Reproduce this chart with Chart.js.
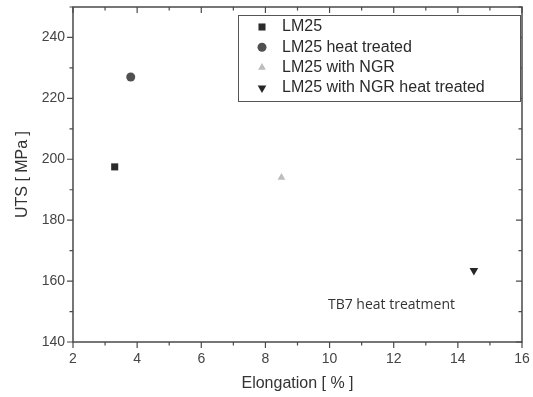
<!DOCTYPE html>
<html>
<head>
<meta charset="utf-8">
<script src="https://cdn.jsdelivr.net/npm/chart.js@4"></script>
<style>
  html, body { margin: 0; padding: 0; background: #fff; }
  #wrap { width: 533px; height: 397px; }
</style>
</head>
<body>
<div id="wrap"><canvas id="utsChart"></canvas></div>
<script>
// Data
const seriesNames = ['LM25', 'LM25 heat treated', 'LM25 with NGR', 'LM25 with NGR heat treated'];
const elongation = [3.3, 3.8, 8.5, 14.5];
const uts = [197.5, 227, 194, 163.5];
const xTicks = [2, 4, 6, 8, 10, 12, 14, 16];
const yTicks = [140, 160, 180, 200, 220, 240];
const noteText = 'TB7 heat treatment';
const notePos = [9.95, 152];

const markerStyles = ['rect', 'circle', 'triangle', 'triangle'];
const markerRot = [0, 0, 0, 180];
const markerSize = [5, 4.5, 4.5, 5];
const markerColors = ['#2b2b2b', '#505050', '#bdbdbd', '#262626'];
const axisColor = '#4a4a4a';

const datasets = seriesNames.map(function(name, i) {
  return {
    label: name,
    data: [{ x: elongation[i], y: uts[i] }],
    pointStyle: markerStyles[i],
    rotation: markerRot[i],
    pointRadius: markerSize[i],
    pointHoverRadius: markerSize[i],
    backgroundColor: markerColors[i],
    borderColor: markerColors[i],
    borderWidth: 0
  };
});

// frame, major/minor ticks, legend box and the note
const framePlugin = {
  id: 'frame',
  afterDraw(chart) {
    const ctx = chart.ctx;
    const a = chart.chartArea;
    const xs = chart.scales.x, ys = chart.scales.y;
    ctx.save();
    ctx.strokeStyle = axisColor;
    ctx.lineWidth = 1.5;
    ctx.strokeRect(a.left, a.top, a.right - a.left, a.bottom - a.top);

    ctx.lineWidth = 1.2;
    ctx.beginPath();
    for (let v = 2; v <= 16; v += 1) {
      const px = xs.getPixelForValue(v);
      const len = v % 2 === 0 ? 6 : 3.5;
      ctx.moveTo(px, a.bottom); ctx.lineTo(px, a.bottom + len);
      ctx.moveTo(px, a.top); ctx.lineTo(px, a.top + len);
    }
    for (let v = 140; v <= 250; v += 10) {
      const py = ys.getPixelForValue(v);
      const len = v % 20 === 0 ? 6 : 3.5;
      ctx.moveTo(a.left, py); ctx.lineTo(a.left - len, py);
      ctx.moveTo(a.right, py); ctx.lineTo(a.right - len, py);
    }
    ctx.stroke();

    // legend
    const lx = 238, ly = 15, lw = 282, lh = 86;
    ctx.fillStyle = '#fff';
    ctx.fillRect(lx, ly, lw, lh);
    ctx.strokeStyle = '#555';
    ctx.lineWidth = 1;
    ctx.strokeRect(lx + 0.5, ly + 0.5, lw, lh);
    ctx.font = '16px "Liberation Sans", Arial, sans-serif';
    ctx.textBaseline = 'middle';
    ctx.textAlign = 'left';
    seriesNames.forEach(function(name, i) {
      const y = ly + 12 + i * 20.3;
      ctx.fillStyle = markerColors[i];
      Chart.helpers.drawPoint(ctx, {
        pointStyle: markerStyles[i], rotation: markerRot[i],
        radius: markerSize[i], borderWidth: 0
      }, lx + 24, y);
      ctx.fillStyle = '#2a2a2a';
      ctx.fillText(name, lx + 44, y);
    });

    // note
    ctx.font = '14px "Open Sans", sans-serif';
    ctx.fillStyle = '#333';
    ctx.fillText(noteText, xs.getPixelForValue(notePos[0]), ys.getPixelForValue(notePos[1]));
    ctx.restore();
  }
};

new Chart(document.getElementById('utsChart').getContext('2d'), {
  type: 'scatter',
  data: { datasets: datasets },
  options: {
    responsive: true,
    maintainAspectRatio: false,
    animation: false,
    layout: { padding: { top: 7, right: 11, left: 0, bottom: 0 } },
    plugins: {
      legend: { display: false },
      tooltip: { enabled: false }
    },
    scales: {
      x: {
        min: 2,
        max: 16,
        afterBuildTicks: function(scale) {
          scale.ticks = xTicks.map(function(v) { return { value: v }; });
        },
        afterFit: function(scale) {
          scale.height = 55;
          scale.paddingLeft = 0;
          scale.paddingRight = 0;
        },
        grid: { display: false, drawTicks: false },
        border: { display: false },
        ticks: {
          padding: 9,
          color: '#444',
          maxRotation: 0,
          font: { family: '"Liberation Sans", Arial, sans-serif', size: 14 }
        },
        title: {
          display: true,
          text: 'Elongation [ % ]',
          color: '#333',
          padding: { top: 0, bottom: 4 },
          font: { family: '"Liberation Sans", Arial, sans-serif', size: 16 }
        }
      },
      y: {
        min: 140,
        max: 250,
        afterBuildTicks: function(scale) {
          scale.ticks = yTicks.map(function(v) { return { value: v }; });
        },
        afterFit: function(scale) {
          scale.width = 73;
          scale.paddingTop = 0;
          scale.paddingBottom = 0;
        },
        grid: { display: false, drawTicks: false },
        border: { display: false },
        ticks: {
          padding: 8,
          color: '#444',
          font: { family: '"Liberation Sans", Arial, sans-serif', size: 14 }
        },
        title: {
          display: true,
          text: 'UTS [ MPa ]',
          color: '#333',
          padding: { top: 13, bottom: 0 },
          font: { family: '"Liberation Sans", Arial, sans-serif', size: 16 }
        }
      }
    }
  },
  plugins: [framePlugin]
});
</script>
</body>
</html>
